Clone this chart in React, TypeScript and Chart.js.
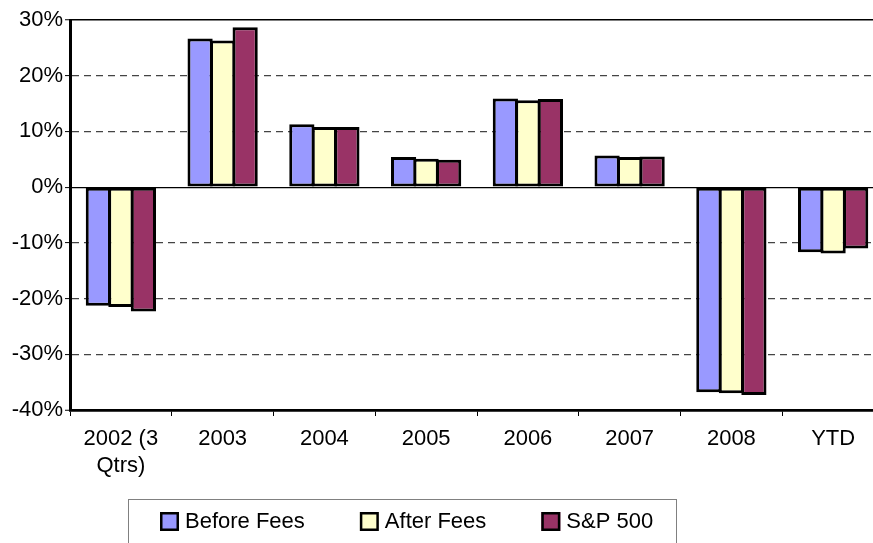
import React, { useEffect, useRef } from "react";
import { Chart, registerables } from "chart.js";

Chart.register(...registerables);

const categories: (string | string[])[] = [
  ["2002 (3", "Qtrs)"],
  "2003",
  "2004",
  "2005",
  "2006",
  "2007",
  "2008",
  "YTD",
];
const beforeFees = [-21.3, 26.7, 11.3, 5.4, 15.9, 5.7, -36.8, -11.7];
const afterFees = [-21.5, 26.3, 10.8, 5.1, 15.6, 5.4, -37.0, -11.9];
const sp500 = [-22.3, 28.7, 10.8, 4.9, 15.8, 5.5, -37.3, -11.0];
const seriesLabels = ["Before Fees", "After Fees", "S&P 500"];
const seriesColors = ["#9999FF", "#FFFFCC", "#993366"];
const yMin = -40;
const yMax = 30;
const yStep = 10;

const FONT = '"Liberation Sans", Arial, sans-serif';

const legendPlugin = {
  id: "customLegend",
  afterDraw(chart: any) {
    const ctx = chart.ctx as CanvasRenderingContext2D;
    ctx.save();
    ctx.strokeStyle = "#808080";
    ctx.lineWidth = 1;
    ctx.strokeRect(128.5, 499.5, 548, 80);
    ctx.font = `22px ${FONT}`;
    ctx.textBaseline = "middle";
    ctx.textAlign = "left";
    let x = 160;
    chart.data.datasets.forEach((ds: any) => {
      ctx.fillStyle = ds.backgroundColor;
      ctx.fillRect(x, 512, 19, 19);
      ctx.strokeStyle = "#000";
      ctx.lineWidth = 2.5;
      ctx.strokeRect(x + 1.25, 513.25, 16.5, 16.5);
      ctx.fillStyle = "#000";
      ctx.fillText(ds.label, x + 25, 522);
      x += 25 + ctx.measureText(ds.label).width + 55;
    });
    ctx.restore();
  },
};

function isSolid(v: number) {
  return v === 0 || v === yMax || v === yMin;
}

export default function App() {
  const ref = useRef<HTMLCanvasElement | null>(null);
  useEffect(() => {
    if (!ref.current) return;
    const data = [beforeFees, afterFees, sp500];
    const chart = new Chart(ref.current, {
      type: "bar",
      data: {
        labels: categories,
        datasets: data.map((d, i) => ({
          label: seriesLabels[i],
          data: d,
          backgroundColor: seriesColors[i],
          borderColor: "#000",
          borderWidth: 3,
          borderSkipped: false,
          categoryPercentage: 0.664,
          barPercentage: 1.12,
        })),
      },
      options: {
        animation: false,
        responsive: false,
        events: [],
        layout: { padding: { top: 20, right: 6, bottom: 0, left: 0 } },
        plugins: {
          legend: { display: false },
          tooltip: { enabled: false },
        },
        scales: {
          x: {
            afterFit: (scale: any) => {
              scale.height = 133;
            },
            grid: {
              display: true,
              drawOnChartArea: false,
              drawTicks: true,
              tickLength: 6,
              tickColor: "#000",
              tickWidth: 1,
              offset: true,
            },
            border: { display: true, color: "#000", width: 2.5 },
            ticks: {
              font: { family: FONT, size: 22, lineHeight: 1.25 },
              color: "#000",
              padding: 9,
              maxRotation: 0,
              autoSkip: false,
            },
          },
          y: {
            min: yMin,
            max: yMax,
            afterFit: (scale: any) => {
              scale.width = 70;
            },
            grid: {
              color: (c: any) =>
                c.tick && isSolid(c.tick.value) ? "#000" : "#444",
              lineWidth: (c: any) =>
                c.tick && c.tick.value === yMin ? 2.5 : c.tick && c.tick.value === yMax ? 1.5 : 1.2,
              drawTicks: true,
              tickLength: 5,
              tickColor: "#000",
              tickWidth: 1,
            },
            border: {
              display: true,
              color: "#000",
              width: 3,
              dash: (c: any) =>
                c.tick && !isSolid(c.tick.value) ? [7, 5] : [],
            },
            ticks: {
              stepSize: yStep,
              font: { family: FONT, size: 22 },
              color: "#000",
              padding: 2,
              callback: (v: any) => `${v}%`,
            },
          },
        },
      },
      plugins: [legendPlugin],
    });
    return () => chart.destroy();
  }, []);
  return (
    <div
      style={{
        position: "fixed",
        left: 0,
        top: 0,
        width: 873,
        height: 543,
        overflow: "hidden",
        background: "#fff",
      }}
    >
      <canvas ref={ref} width={890} height={543} style={{ display: "block" }} />
    </div>
  );
}
